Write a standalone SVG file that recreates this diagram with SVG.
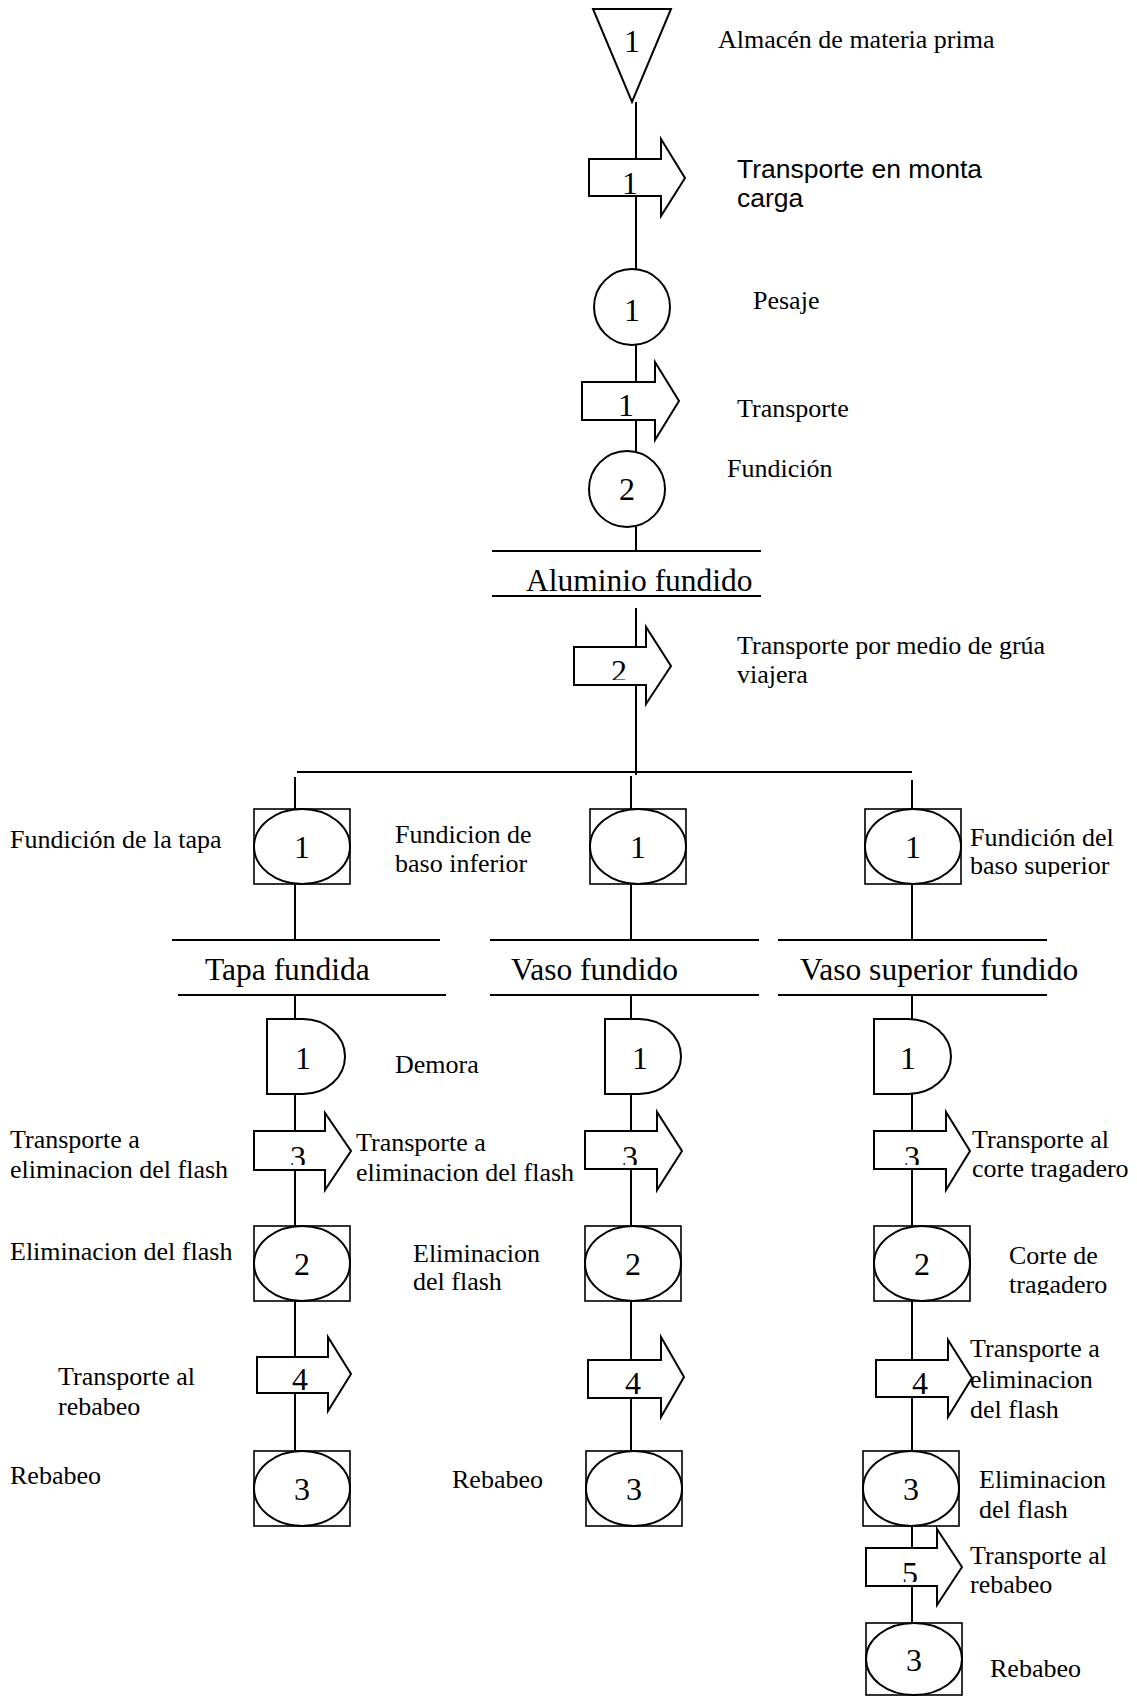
<svg xmlns="http://www.w3.org/2000/svg" width="1137" height="1696" viewBox="0 0 1137 1696">
<style>
.s{fill:#fff;stroke:#000;stroke-width:2}
.b{fill:#fff;stroke:#000;stroke-width:1.6}
.e{fill:#fff;stroke:#000;stroke-width:2}
.c{fill:none;stroke:#000;stroke-width:2}
.t{font-family:"Liberation Serif","Times New Roman",serif;font-size:26px;fill:#000}
.a{font-family:"Liberation Sans",Arial,sans-serif;font-size:26.5px;fill:#000}
.h{font-family:"Liberation Serif","Times New Roman",serif;font-size:31.5px;fill:#000}
.n{font-family:"Liberation Serif","Times New Roman",serif;font-size:32px;fill:#000;text-anchor:middle}
</style>
<defs>
<clipPath id="k1"><rect x="574" y="640" width="72" height="40"/></clipPath>
<clipPath id="k2"><rect x="254" y="1125" width="71" height="40"/></clipPath>
<clipPath id="k3"><rect x="585" y="1125" width="72" height="40"/></clipPath>
<clipPath id="k4"><rect x="874" y="1125" width="72" height="40"/></clipPath>
<clipPath id="k5"><rect x="866" y="1545" width="71" height="37"/></clipPath>
<clipPath id="k6"><rect x="960" y="810" width="177" height="67"/></clipPath>
<clipPath id="k7"><rect x="960" y="1120" width="177" height="63"/></clipPath>
<clipPath id="k8"><rect x="990" y="1235" width="147" height="60"/></clipPath>
</defs>
<rect width="1137" height="1696" fill="#fff"/>

<g id="connectors">
<line class="c" x1="636" y1="102" x2="636" y2="551"/>
<line class="c" x1="636" y1="608" x2="636" y2="775"/>
<line class="c" x1="297" y1="772" x2="912" y2="772"/>
<line class="c" x1="295" y1="777" x2="295" y2="940"/>
<line class="c" x1="295" y1="995" x2="295" y2="1451"/>
<line class="c" x1="631" y1="776" x2="631" y2="940"/>
<line class="c" x1="631" y1="995" x2="631" y2="1451"/>
<line class="c" x1="912" y1="780" x2="912" y2="940"/>
<line class="c" x1="912" y1="995" x2="912" y2="1623"/>
</g>

<g id="n-almacen">
<polygon class="s" points="593,9 671,9 632,102"/>
<text class="n" x="632" y="52">1</text>
<text class="t" x="718" y="48">Almacén de materia prima</text>
</g>
<g id="n-transporte1">
<polygon class="s" points="589,159 661,159 661,139 685,178 661,216 661,196 589,196"/>
<text class="n" x="630" y="194">1</text>
<text class="a" x="737" y="178">Transporte en monta</text>
<text class="a" x="737" y="207">carga</text>
</g>
<g id="n-pesaje">
<circle class="s" cx="632" cy="307" r="38"/>
<text class="n" x="632" y="321">1</text>
<text class="t" x="753" y="309">Pesaje</text>
</g>
<g id="n-transporte2">
<polygon class="s" points="582,382 655,382 655,362 679,401 655,440 655,420 582,420"/>
<text class="n" x="626" y="416">1</text>
<text class="t" x="737" y="417">Transporte</text>
</g>
<g id="n-fundicion">
<circle class="s" cx="627" cy="489" r="38"/>
<text class="n" x="627" y="500">2</text>
<text class="t" x="727" y="477">Fundición</text>
</g>
<g id="n-aluminio">
<line class="c" x1="492" y1="551" x2="761" y2="551"/>
<text class="h" x="526" y="591">Aluminio fundido</text>
<line class="c" x1="492" y1="596" x2="761" y2="596"/>
</g>
<g id="n-transporte-grua">
<polygon class="s" points="574,647 646,647 646,627 671,666 646,704 646,685 574,685"/>
<text class="n" x="619" y="682" clip-path="url(#k1)">2</text>
<text class="t" x="737" y="654">Transporte por medio de grúa</text>
<text class="t" x="737" y="683">viajera</text>
</g>

<g id="n-fund-tapa">
<rect class="b" x="254" y="809" width="96" height="75"/>
<ellipse class="e" cx="302" cy="846.5" rx="48" ry="37.5"/>
<text class="n" x="302" y="858">1</text>
<text class="t" x="10" y="848">Fundición de la tapa</text>
</g>
<g id="n-fund-inferior">
<rect class="b" x="590" y="809" width="96" height="75"/>
<ellipse class="e" cx="638" cy="846.5" rx="48" ry="37.5"/>
<text class="n" x="638" y="858">1</text>
<text class="t" x="395" y="843">Fundicion de</text>
<text class="t" x="395" y="872">baso inferior</text>
</g>
<g id="n-fund-superior">
<rect class="b" x="865" y="809" width="96" height="75"/>
<ellipse class="e" cx="913" cy="846.5" rx="48" ry="37.5"/>
<text class="n" x="913" y="858">1</text>
<g clip-path="url(#k6)">
<text class="t" x="970" y="846">Fundición del</text>
<text class="t" x="970" y="874">baso superior</text>
</g>
</g>

<g id="n-tapa-fundida">
<line class="c" x1="172" y1="940" x2="440" y2="940"/>
<text class="h" x="205" y="980">Tapa fundida</text>
<line class="c" x1="178" y1="995" x2="446" y2="995"/>
</g>
<g id="n-vaso-fundido">
<line class="c" x1="490" y1="940" x2="759" y2="940"/>
<text class="h" x="511" y="980">Vaso fundido</text>
<line class="c" x1="490" y1="995" x2="759" y2="995"/>
</g>
<g id="n-vaso-superior-fundido">
<line class="c" x1="778" y1="940" x2="1047" y2="940"/>
<text class="h" x="800" y="980">Vaso superior fundido</text>
<line class="c" x1="778" y1="995" x2="1047" y2="995"/>
</g>

<g id="n-demora-l">
<path class="s" d="M267,1019 H303 A42,37.5 0 0 1 303,1094 H267 Z"/>
<text class="n" x="303" y="1069">1</text>
<text class="t" x="395" y="1073">Demora</text>
</g>
<g id="n-demora-m">
<path class="s" d="M605,1019 H639 A42,37.5 0 0 1 639,1094 H605 Z"/>
<text class="n" x="640" y="1069">1</text>
</g>
<g id="n-demora-r">
<path class="s" d="M874,1019 H908 A43,37.5 0 0 1 908,1094 H874 Z"/>
<text class="n" x="908" y="1069">1</text>
</g>

<g id="n-t3-l">
<polygon class="s" points="254,1131 325,1131 325,1113 351,1151 325,1190 325,1170 254,1170"/>
<text class="n" x="298" y="1168" clip-path="url(#k2)">3</text>
<text class="t" x="10" y="1148">Transporte a</text>
<text class="t" x="10" y="1178">eliminacion del flash</text>
<text class="t" x="356" y="1151">Transporte a</text>
<text class="t" x="356" y="1181">eliminacion del flash</text>
</g>
<g id="n-t3-m">
<polygon class="s" points="585,1131 657,1131 657,1112 682,1151 657,1190 657,1169 585,1169"/>
<text class="n" x="630" y="1168" clip-path="url(#k3)">3</text>
</g>
<g id="n-t3-r">
<polygon class="s" points="874,1131 946,1131 946,1112 970,1151 946,1190 946,1169 874,1169"/>
<text class="n" x="912" y="1168" clip-path="url(#k4)">3</text>
<g clip-path="url(#k7)">
<text class="t" x="972" y="1148">Transporte al</text>
<text class="t" x="972" y="1177">corte tragadero</text>
</g>
</g>

<g id="n-elim-l">
<rect class="b" x="254" y="1226" width="96" height="75"/>
<ellipse class="e" cx="302" cy="1263.5" rx="48" ry="37.5"/>
<text class="n" x="302" y="1275">2</text>
<text class="t" x="10" y="1260">Eliminacion del flash</text>
</g>
<g id="n-elim-m">
<rect class="b" x="585" y="1226" width="96" height="75"/>
<ellipse class="e" cx="633" cy="1263.5" rx="48" ry="37.5"/>
<text class="n" x="633" y="1275">2</text>
<text class="t" x="413" y="1262">Eliminacion</text>
<text class="t" x="413" y="1290">del flash</text>
</g>
<g id="n-corte-r">
<rect class="b" x="874" y="1226" width="96" height="75"/>
<ellipse class="e" cx="922" cy="1263.5" rx="48" ry="37.5"/>
<text class="n" x="922" y="1275">2</text>
<g clip-path="url(#k8)">
<text class="t" x="1009" y="1264">Corte de</text>
<text class="t" x="1009" y="1293">tragadero</text>
</g>
</g>

<g id="n-t4-l">
<polygon class="s" points="257,1357 328,1357 328,1337 351,1374 328,1411 328,1393 257,1393"/>
<text class="n" x="300" y="1390">4</text>
<text class="t" x="58" y="1385">Transporte al</text>
<text class="t" x="58" y="1415">rebabeo</text>
</g>
<g id="n-t4-m">
<polygon class="s" points="588,1360 661,1360 661,1337 684,1377 661,1417 661,1398 588,1398"/>
<text class="n" x="633" y="1394">4</text>
</g>
<g id="n-t4-r">
<polygon class="s" points="876,1360 948,1360 948,1340 972,1378 948,1417 948,1397 876,1397"/>
<text class="n" x="920" y="1394">4</text>
<text class="t" x="970" y="1357">Transporte a</text>
<text class="t" x="970" y="1388">eliminacion</text>
<text class="t" x="970" y="1418">del flash</text>
</g>

<g id="n-rebabeo-l">
<rect class="b" x="254" y="1451" width="96" height="75"/>
<ellipse class="e" cx="302" cy="1488.5" rx="48" ry="37.5"/>
<text class="n" x="302" y="1500">3</text>
<text class="t" x="10" y="1484">Rebabeo</text>
</g>
<g id="n-rebabeo-m">
<rect class="b" x="586" y="1451" width="96" height="75"/>
<ellipse class="e" cx="634" cy="1488.5" rx="48" ry="37.5"/>
<text class="n" x="634" y="1500">3</text>
<text class="t" x="452" y="1488">Rebabeo</text>
</g>
<g id="n-elim-r">
<rect class="b" x="863" y="1451" width="96" height="75"/>
<ellipse class="e" cx="911" cy="1488.5" rx="48" ry="37.5"/>
<text class="n" x="911" y="1500">3</text>
<text class="t" x="979" y="1488">Eliminacion</text>
<text class="t" x="979" y="1518">del flash</text>
</g>
<g id="n-t5-r">
<polygon class="s" points="866,1548 937,1548 937,1529 962,1567 937,1605 937,1586 866,1586"/>
<text class="n" x="910" y="1584" clip-path="url(#k5)">5</text>
<text class="t" x="970" y="1564">Transporte al</text>
<text class="t" x="970" y="1593">rebabeo</text>
</g>
<g id="n-rebabeo-r">
<rect class="b" x="866" y="1623" width="96" height="72"/>
<ellipse class="e" cx="914" cy="1659" rx="48" ry="36"/>
<text class="n" x="914" y="1671">3</text>
<text class="t" x="990" y="1677">Rebabeo</text>
</g>
</svg>
